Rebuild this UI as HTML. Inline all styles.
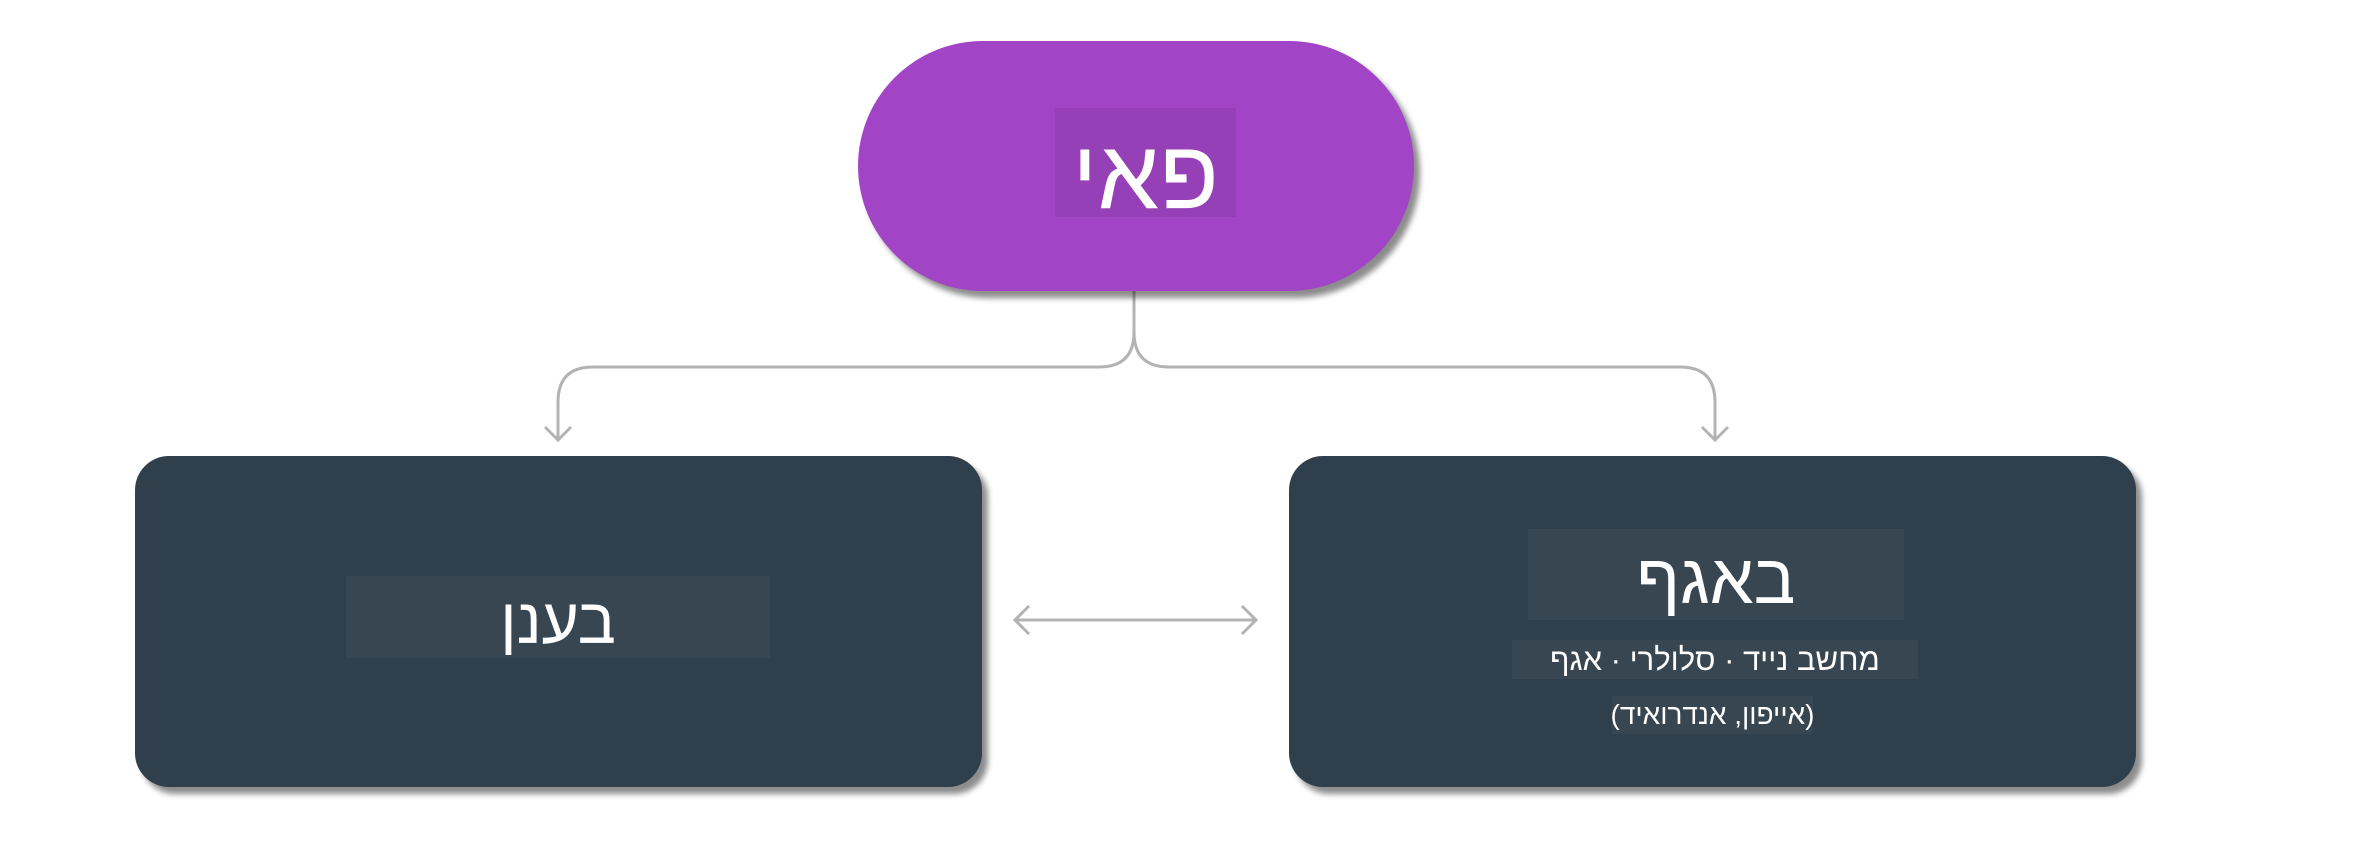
<!DOCTYPE html>
<html><head><meta charset="utf-8"><style>
html,body{margin:0;padding:0;background:#fff;}
body{width:2377px;height:851px;position:relative;overflow:hidden;font-family:"Liberation Sans","DejaVu Sans",sans-serif;}
.abs{position:absolute;}
.lbl{position:absolute;color:#fff;direction:rtl;text-align:center;display:flex;align-items:center;justify-content:center;white-space:nowrap;}
</style></head><body>
<svg class="abs" style="left:0;top:0" width="2377" height="851">
<g fill="none" stroke="#b3b3b3" stroke-width="3">
<path d="M1134 291 V332 Q1134 367 1099 367 H593 Q558 367 558 402 V439"/>
<path d="M1134 291 V332 Q1134 367 1169 367 H1680 Q1715 367 1715 402 V439"/>
<path d="M545 427 L558 440 L571 427"/>
<path d="M1702 427 L1715 440 L1728 427"/>
<path d="M1015 620 H1256"/>
<path d="M1029 606 L1015 620 L1029 634"/>
<path d="M1242 606 L1256 620 L1242 634"/>
</g>
</svg>
<div class="abs" style="left:858px;top:41px;width:556px;height:250px;border-radius:125px;background:#a244c6;box-shadow:6px 7px 6px rgba(0,0,0,0.45);"></div>
<div class="lbl" style="left:1055px;top:108px;width:181px;height:109px;background:#9640b8;font-size:98px;overflow:hidden;"><span style="position:relative;top:12px;">פאי</span></div>
<div class="abs" style="left:135px;top:456px;width:847px;height:331px;border-radius:34px;background:#2f3f4c;box-shadow:6px 7px 6px rgba(0,0,0,0.45);"></div>
<div class="lbl" style="left:346px;top:576px;width:424px;height:82px;background:#374651;font-size:64px;"><span style="position:relative;top:4px;">בענן</span></div>
<div class="abs" style="left:1289px;top:456px;width:847px;height:331px;border-radius:34px;background:#2f3f4c;box-shadow:6px 7px 6px rgba(0,0,0,0.45);"></div>
<div class="lbl" style="left:1528px;top:529px;width:376px;height:91px;background:#374651;font-size:70px;"><span style="position:relative;top:4px;">באגף</span></div>
<div class="lbl" style="left:1512px;top:640px;width:406px;height:39px;background:#374651;font-size:31px;">מחשב נייד · סלולרי · אגף</div>
<div class="lbl" style="left:1612px;top:696px;width:201px;height:38px;background:#374651;font-size:28px;">(אייפון, אנדרואיד)</div>
</body></html>
